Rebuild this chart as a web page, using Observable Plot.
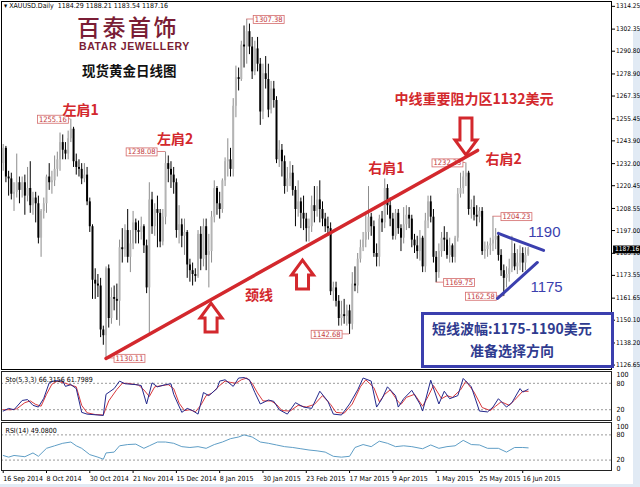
<!DOCTYPE html>
<html>
<head>
<meta charset="utf-8">
<script src="https://cdn.jsdelivr.net/npm/d3@7"></script>
<script src="https://cdn.jsdelivr.net/npm/@observablehq/plot@0.6"></script>
<style>
  body { margin: 0; background: #fff; }
  #wrap { position: relative; width: 640px; height: 487px; overflow: hidden; background: #fff; }
  #wrap svg { position: absolute; left: 0; overflow: visible; }
  .ov { position: absolute; white-space: nowrap; }
  .edge { position: absolute; background: #e1eaf4; }
</style>
</head>
<body>
<div id="wrap"><div class="edge" style="left:633px;top:30px;width:7px;height:457px"></div><div class="edge" style="left:0;top:484px;width:640px;height:3px"></div></div>
<script>
// XAUUSD daily bars, 16 Sep 2014 .. 17 Jun 2015 (bar index 0..194)
const openP = [1232,1240,1225,1224,1216,1217,1222,1218,1222,1215,1219,1210,1214,1211,1193,1207,1211,1225,1222,1223,
  1229,1234,1243,1239,1237,1245,1250,1233,1230,1229,1224,1226,1212,1199,1171,1169,1168,1145,1142,1177,
  1151,1162,1161,1160,1188,1187,1197,1183,1190,1201,1197,1196,1199,1189,1167,1213,1199,1208,1206,1191,
  1204,1232,1229,1226,1222,1197,1200,1194,1196,1179,1176,1174,1173,1195,1182,1199,1184,1186,1204,1219,
  1211,1208,1223,1233,1234,1229,1262,1277,1276,1294,1293,1301,1293,1280,1292,1284,1259,1279,1276,1260,
  1271,1265,1234,1239,1233,1220,1224,1227,1218,1208,1212,1206,1203,1198,1199,1210,1207,1213,1208,1203,
  1199,1198,1165,1167,1160,1151,1153,1152,1155,1148,1169,1168,1182,1188,1192,1196,1204,1199,1185,1183,
  1203,1201,1219,1210,1203,1194,1206,1198,1193,1200,1205,1203,1192,1189,1186,1193,1178,1202,1212,1204,
  1183,1175,1186,1193,1192,1184,1189,1183,1193,1216,1219,1225,1227,1208,1209,1205,1204,1207,1186,1187,
  1189,1190,1192,1194,1184,1176,1172,1174,1177,1185,1178,1180,1185,1180,1184.29];
const highP = [1242,1241,1228,1227,1222,1237,1225,1225,1226,1230,1233,1217,1217,1215,1208,1214,1226,1232,1228,1236,
  1238,1248,1247,1243,1249,1255.16,1251,1237,1234,1232,1232,1230,1214,1200,1177,1174,1172,1147,1178,1179,
  1167,1168,1169,1192,1198,1200,1208,1197,1207,1203,1202,1204,1200,1192,1222,1217,1211,1215,1208,1208,
  1238.08,1236,1233,1230,1224,1210,1203,1203,1197,1182,1180,1177,1197,1199,1203,1203,1195,1207,1223,1220,
  1217,1224,1235,1245,1240,1266,1283,1282,1296,1304,1307.38,1305,1298,1296,1298,1287,1284,1288,1284,1275,
  1275,1267,1244,1242,1236,1230,1233,1231,1220,1223,1214,1215,1206,1203,1215,1220,1220,1223,1212,1206,
  1204,1201,1170,1170,1163,1160,1161,1158,1158,1175,1178,1185,1192,1196,1206,1220,1206,1202,1190,1205,
  1207,1224,1221,1214,1206,1208,1208,1200,1209,1210,1209,1205,1195,1194,1197,1194,1206,1215,1215,1208,
  1186,1190,1196,1199,1196,1193,1190,1194,1219,1227,1228,1232.33,1228,1213,1215,1210,1209,1209,1191,1191,
  1193,1204.23,1198,1196,1187,1179,1178,1182,1194,1190,1187,1189,1188,1188,1188.21];
const lowP = [1228,1222,1215,1213,1207,1214,1211,1214,1205,1212,1206,1205,1201,1190,1183,1203,1206,1218,1216,1220,
  1225,1228,1234,1234,1234,1243,1230,1226,1225,1221,1222,1210,1196,1161,1161,1162,1141,1137,1130.11,1146,
  1148,1155,1150,1147,1180,1183,1180,1175,1187,1190,1190,1192,1185,1164,1142,1195,1194,1188,1188,1189,
  1200,1222,1219,1216,1193,1190,1188,1184,1172,1170,1168,1170,1172,1176,1178,1176,1167,1180,1201,1205,
  1203,1206,1220,1225,1225,1225,1256,1270,1275,1282,1284,1289,1276,1278,1280,1252,1255,1271,1256,1258,
  1261,1232,1230,1225,1216,1217,1220,1215,1199,1204,1198,1197,1191,1191,1196,1201,1204,1201,1199,1196,
  1194,1163,1160,1157,1147,1147,1148,1147,1142.68,1145,1165,1164,1180,1186,1188,1192,1194,1183,1178,1178,
  1196,1198,1205,1199,1192,1192,1195,1186,1190,1197,1198,1188,1185,1182,1181,1175,1175,1198,1201,1180,
  1169.75,1172,1183,1186,1182,1180,1180,1180,1191,1214,1216,1220,1205,1203,1202,1199,1201,1184,1182,1183,
  1184,1186,1187,1181,1173,1162.58,1167,1170,1175,1176,1174,1176,1175,1176,1183.54];
const closeP = [1240,1225,1224,1216,1217,1222,1218,1222,1215,1219,1210,1214,1211,1193,1207,1211,1225,1222,1223,1229,
  1234,1243,1239,1237,1245,1250,1233,1230,1229,1224,1226,1212,1199,1171,1169,1168,1145,1142,1177,1151,
  1162,1161,1160,1188,1187,1197,1183,1190,1201,1197,1196,1199,1189,1167,1213,1199,1208,1206,1191,1204,
  1232,1229,1226,1222,1197,1200,1194,1196,1179,1176,1174,1173,1195,1182,1199,1184,1186,1204,1219,1211,
  1208,1223,1233,1234,1229,1262,1277,1276,1294,1293,1301,1293,1280,1292,1284,1259,1279,1276,1260,1271,
  1265,1234,1239,1233,1220,1224,1227,1218,1208,1212,1206,1203,1198,1199,1210,1207,1213,1208,1203,1199,
  1198,1165,1167,1160,1151,1153,1152,1155,1148,1169,1168,1182,1188,1192,1196,1204,1199,1185,1183,1203,
  1201,1219,1210,1203,1194,1206,1198,1193,1200,1205,1203,1192,1189,1186,1193,1178,1202,1212,1204,1183,
  1175,1186,1193,1192,1184,1189,1183,1193,1216,1219,1225,1227,1208,1209,1205,1204,1207,1186,1187,1189,
  1190,1192,1194,1184,1176,1172,1174,1177,1185,1178,1180,1185,1180,1184,1187.16];

// Right price axis
const priceTicks = [1314.25,1302.35,1290.80,1278.90,1267.35,1255.45,1243.90,1232.00,1220.45,1208.55,1197.00,
  1185.10,1173.55,1161.65,1150.10,1138.20,1126.65];

// Date axis (one label every 16 bars)
const dateTickBars = [0,16,32,48,64,80,96,112,128,144,160,176,192];
const dateTickLabels = ["16 Sep 2014","8 Oct 2014","30 Oct 2014","21 Nov 2014","15 Dec 2014","8 Jan 2015",
  "30 Jan 2015","23 Feb 2015","17 Mar 2015","9 Apr 2015","1 May 2015","25 May 2015","16 Jun 2015"];

// Stochastic (5,3,3): main line and signal line
const stoKBars = [0,2,4,7,9,11,13,15,17,19,22,23,25,27,29,31,35,37,38,41,43,45,49,51,53,55,57,60,62,63,66,68,70,72,
  74,76,79,80,82,85,87,89,91,93,95,98,100,102,105,108,111,114,117,120,122,125,128,131,133,136,138,140,142,145,146,
  148,151,154,155,158,161,163,165,168,170,173,176,179,181,183,186,188,191,192,194];
const stoKVals = [17,23,20,41,43,30,26,46,81,86,85,73,77,68,14,10,8,7,55,68,85,79,77,75,33,81,72,77,79,55,14,23,18,10,
  59,52,68,85,88,73,92,93,88,59,33,42,39,20,10,36,26,23,62,39,10,8,33,65,92,85,26,45,72,52,26,
  45,64,33,17,87,33,62,45,52,91,72,17,15,26,45,26,36,68,60,66.3156];
const stoDBars = [0,3,5,8,10,12,14,16,18,20,23,25,27,29,31,34,37,39,42,44,46,50,52,54,56,58,61,63,65,67,69,71,73,75,
  77,80,82,84,86,88,90,92,94,96,99,101,103,106,109,112,115,118,121,123,126,129,132,134,137,139,141,143,146,147,149,
  152,155,157,159,162,164,166,169,171,174,177,180,182,184,187,189,192,194];
const stoDVals = [20,20,22,36,40,32,28,55,78,85,80,76,72,30,13,9,8,40,66,80,80,76,65,50,72,74,77,68,35,18,20,15,30,52,
  57,75,85,82,80,88,92,80,58,40,40,32,18,17,30,26,32,52,32,14,12,33,72,88,70,38,55,65,38,32,48,
  55,28,50,75,45,52,48,65,85,60,25,18,28,38,30,42,62,61.7989];

// RSI(14)
const rsiBars = [0,2,4,8,11,13,16,19,22,25,27,29,32,35,37,38,41,43,46,49,52,54,57,60,63,66,69,72,75,78,81,84,87,89,
  92,95,98,101,104,107,110,113,116,119,122,125,128,130,133,136,139,142,145,148,151,155,158,161,164,167,170,173,176,
  179,183,186,189,192,194];
const rsiVals = [31,27,31,28,37,29,48,54,60,63,54,48,33,27,22,37,39,54,57,58,48,54,63,63,60,52,50,52,48,57,63,71,75,80,
  75,63,60,56,52,50,47,44,42,39,29,27,29,50,57,52,65,60,52,54,52,47,56,48,52,54,67,57,56,
  48,48,39,50,50,49.08];

// Annotated extremes
const tagBars = [25,60,90,38,128,160,185,181,171];
const tagPrices = [1255.16,1238.08,1307.38,1130.11,1142.68,1169.75,1162.58,1204.23,1232.33];

// Pattern notes
const noteTexts = ["左肩1","左肩2","右肩1","右肩2","颈线","中线重要阻力区1132美元"];
const noteBars = [28.6,63.5,141.6,184.9,94.5,174];
const notePrices = [1260,1244.5,1229.4,1234.2,1163,1265.5];

// Neckline and short-term triangle
const neckBars = [38,175.3], neckPrices = [1130.11,1238.9];
const triTopBars = [183,199.7], triTopPrices = [1195.5,1186.6];
const triBotBars = [182.7,197.4], triBotPrices = [1161.5,1180.3];
const levelTexts = ["1190","1175"], levelBars = [200,200.8], levelPrices = [1196,1167.2];

// Arrow tips
const upArrowBars = [77,110.8], upArrowPrices = [1158.8,1181.3];
const downArrowBars = [171.2], downArrowPrices = [1236.3];

// ---- build rows
const bars = closeP.map((c, i) => ({i, o: openP[i], h: highP[i], l: lowP[i], c}));
const upBars = bars.filter(d => d.c >= d.o), downBars = bars.filter(d => d.c < d.o);
const toPts = (xs, ys) => xs.map((x, k) => ({x, y: ys[k]}));
const tags = tagBars.map((i, k) => ({i, p: tagPrices[k]}));
const notes = noteTexts.map((t, k) => ({t, i: noteBars[k], p: notePrices[k]}));
const levels = levelTexts.map((t, k) => ({t, i: levelBars[k], p: levelPrices[k]}));
const lastClose = closeP[closeP.length - 1];

// horizontal placement of each extreme tag relative to its bar (px)
const tagOffset = {"1255.16": -4, "1238.08": -10, "1307.38": 8, "1130.11": 9.5, "1142.68": -9,
  "1169.75": 9, "1162.58": -9, "1204.23": 9.5, "1232.33": -4.5};

const X_DOMAIN = [-0.63, 224.8];
const RED = "#d3282d", BLUE = "#3b3fae";
const axisFont = "Tahoma,'DejaVu Sans Condensed','Liberation Sans Narrow','Liberation Sans',Arial,sans-serif";
const cjk = "'Noto Sans CJK SC','Noto Sans CJK TC',sans-serif";

const main = Plot.plot({
  width: 640, height: 370,
  marginTop: 1, marginBottom: 1, marginLeft: 1, marginRight: 29,
  style: {fontFamily: axisFont, fontSize: "6.5px", background: "transparent", color: "#000"},
  x: {domain: X_DOMAIN, axis: null},
  y: {domain: [1124.33, 1316.79], axis: "right", ticks: priceTicks, tickFormat: d => d.toFixed(2),
      tickSize: 3, tickPadding: 1.5, label: null},
  marks: [
    Plot.ruleX(upBars, {x: "i", y1: "l", y2: "h", stroke: "#8c8c8c", strokeWidth: 1}),
    Plot.ruleX(downBars, {x: "i", y1: "l", y2: "h", stroke: "#000", strokeWidth: 1}),
    Plot.ruleX(upBars, {x: "i", y1: "o", y2: "c", stroke: "#b4b4b4", strokeWidth: 2}),
    Plot.ruleX(downBars, {x: "i", y1: "c", y2: "o", stroke: "#000", strokeWidth: 2}),
    ...tags.filter(d => tagOffset[d.p.toFixed(2)] < 0).map(d =>
      Plot.text([d], {x: "i", y: "p", text: v => v.p.toFixed(2), textAnchor: "end",
        dx: tagOffset[d.p.toFixed(2)], fill: "#c23a3c", fontSize: 7.5})),
    ...tags.filter(d => tagOffset[d.p.toFixed(2)] > 0).map(d =>
      Plot.text([d], {x: "i", y: "p", text: v => v.p.toFixed(2), textAnchor: "start",
        dx: tagOffset[d.p.toFixed(2)], fill: "#c23a3c", fontSize: 7.5})),
    Plot.line(toPts(neckBars, neckPrices), {x: "x", y: "y", stroke: RED, strokeWidth: 3.5}),
    Plot.line(toPts(triTopBars, triTopPrices), {x: "x", y: "y", stroke: BLUE, strokeWidth: 3}),
    Plot.line(toPts(triBotBars, triBotPrices), {x: "x", y: "y", stroke: BLUE, strokeWidth: 3}),
    Plot.text(notes, {x: "i", y: "p", text: "t", fill: RED, fontSize: 14, fontWeight: "bold", fontFamily: cjk}),
    Plot.text(levels, {x: "i", y: "p", text: "t", fill: BLUE, fontSize: 15, fontFamily: "'Liberation Sans',Arial,sans-serif"}),
    Plot.text([lastClose], {frameAnchor: "right", y: d => d, text: d => d.toFixed(2), textAnchor: "start",
      dx: 3.5, fill: "#fff", fontSize: 6.5}),
    Plot.frame({stroke: "#000"})
  ]
});

const sto = Plot.plot({
  width: 640, height: 51,
  marginTop: 1, marginBottom: 1, marginLeft: 1, marginRight: 29,
  style: {fontFamily: axisFont, fontSize: "7px", background: "transparent", color: "#000"},
  x: {domain: X_DOMAIN, axis: null},
  y: {domain: [-4.5, 106.8], axis: "right", ticks: [0, 20, 80, 100], tickSize: 0, tickPadding: 5, label: null},
  marks: [
    Plot.ruleY([20, 80], {stroke: "#9a9a9a", strokeDasharray: "2,2"}),
    Plot.line(toPts(stoDBars, stoDVals), {x: "x", y: "y", stroke: "#d8383c", strokeWidth: 1}),
    Plot.line(toPts(stoKBars, stoKVals), {x: "x", y: "y", stroke: "#23288c", strokeWidth: 1}),
    Plot.text(["Sto(5,3,3) 66.3156 61.7989"], {frameAnchor: "top-left", dx: 4, dy: 6, textAnchor: "start"}),
    Plot.frame({stroke: "#222"})
  ]
});

const rsi = Plot.plot({
  width: 640, height: 66,
  marginTop: 1, marginBottom: 17, marginLeft: 1, marginRight: 29,
  style: {fontFamily: axisFont, fontSize: "7px", background: "transparent", color: "#000"},
  x: {domain: X_DOMAIN, ticks: dateTickBars, tickFormat: i => dateTickLabels[dateTickBars.indexOf(i)],
      tickSize: 3, tickPadding: 3, label: null},
  y: {domain: [-4.8, 109.5], axis: "right", ticks: [0, 20, 80, 100], tickSize: 0, tickPadding: 5, label: null},
  marks: [
    Plot.ruleY([20, 80], {stroke: "#9a9a9a", strokeDasharray: "2,2"}),
    Plot.line(toPts(rsiBars, rsiVals), {x: "x", y: "y", stroke: "#5f9ec6", strokeWidth: 1}),
    Plot.text(["RSI(14) 49.0800"], {frameAnchor: "top-left", dx: 4, dy: 6, textAnchor: "start"}),
    Plot.frame({stroke: "#222"})
  ]
});

const wrap = document.getElementById("wrap");
main.style.top = "0px"; sto.style.top = "370px"; rsi.style.top = "421px";
wrap.append(main, sto, rsi);

// date labels start at their tick
const dateSet = new Set(dateTickLabels);
rsi.querySelectorAll("text").forEach(t => {
  if (dateSet.has(t.textContent)) { t.setAttribute("text-anchor", "start"); t.style.textAnchor = "start"; }
});

const NS = "http://www.w3.org/2000/svg";
function el(name, attrs) {
  const e = document.createElementNS(NS, name);
  for (const k in attrs) e.setAttribute(k, attrs[k]);
  return e;
}
const sx = main.scale("x").apply, sy = main.scale("y").apply;

// boxes behind value tags, with a short leader to the bar
function boxText(svg, t, fill, stroke, anchor) {
  const sr = svg.getBoundingClientRect(), tb = t.getBoundingClientRect();
  const g = el("g", {});
  const bx = tb.left - sr.left - 1.5, by = tb.top - sr.top + 0.5, bw = tb.width + 3, bh = tb.height - 1;
  if (anchor) {
    const ax = anchor[0], ay = anchor[1];
    const ex = ax < bx ? bx : bx + bw;
    g.append(el("line", {x1: ax, y1: ay, x2: ex, y2: ay, stroke: stroke, "stroke-width": 0.8}));
  }
  g.append(el("rect", {x: bx, y: by, width: bw, height: bh, fill, stroke, "stroke-width": 0.8}));
  let top = t; while (top.parentNode !== svg) top = top.parentNode;
  svg.insertBefore(g, top);
}
const tagByText = new Map(tags.map(d => [d.p.toFixed(2), d]));
const lastText = lastClose.toFixed(2);
main.querySelectorAll("text").forEach(t => {
  const s = t.textContent;
  if (tagByText.has(s) && t.getBoundingClientRect().left < 600) {
    const d = tagByText.get(s);
    boxText(main, t, "#fff", "#d46a6a", [sx(d.i), sy(d.p)]);
  }
});
main.querySelectorAll("text").forEach(t => {
  if (t.textContent === lastText) boxText(main, t, "#000", "#000", null);
});

// hollow block arrows
function arrowPath(tx, ty, dir) {
  const hw = 11, sw = 6, hh = 15 * dir, sh = (dir > 0 ? 14 : 22) * dir;
  return `M${tx},${ty}L${tx + hw},${ty + hh}L${tx + sw},${ty + hh}L${tx + sw},${ty + hh + sh}` +
         `L${tx - sw},${ty + hh + sh}L${tx - sw},${ty + hh}L${tx - hw},${ty + hh}Z`;
}
upArrowBars.forEach((b, k) => main.append(el("path", {d: arrowPath(sx(b), sy(upArrowPrices[k]), 1),
  fill: "#fff", stroke: RED, "stroke-width": 3, "stroke-linejoin": "miter"})));
downArrowBars.forEach((b, k) => main.append(el("path", {d: arrowPath(sx(b), sy(downArrowPrices[k]), -1),
  fill: "#fff", stroke: RED, "stroke-width": 3, "stroke-linejoin": "miter"})));

// header, brand and range box
function ov(html, css) {
  const d = document.createElement("div");
  d.className = "ov"; d.innerHTML = html; d.style.cssText += css;
  wrap.append(d);
  return d;
}
ov("&#9662; XAUUSD.Daily&nbsp; 1184.29 1188.21 1183.54 1187.16",
   `left:4px;top:2px;font:7px/9px ${axisFont};color:#000;`);
ov("百泰首饰", `left:77px;top:15px;font:500 23px/22px ${cjk};letter-spacing:2.5px;color:#7a1d35;`);
ov("BATAR JEWELLERY", `left:79px;top:42px;font:bold 10.5px/9px 'Liberation Sans',Arial,sans-serif;letter-spacing:0.6px;color:#7a1d35;`);
ov("现货黄金日线图", `left:82px;top:62px;font:bold 13.5px/16px ${cjk};color:#111;`);
ov(`<div>短线波幅:1175-1190美元</div><div style="padding-left:38px">准备选择方向</div>`,
   `left:421px;top:312px;width:179px;height:48px;border:3px solid ${BLUE};background:#fff;` +
   `font:bold 14px/22px ${cjk};color:#2f3b8f;padding:2px 0 0 8px;box-sizing:content-box;`);
</script>
</body>
</html>
